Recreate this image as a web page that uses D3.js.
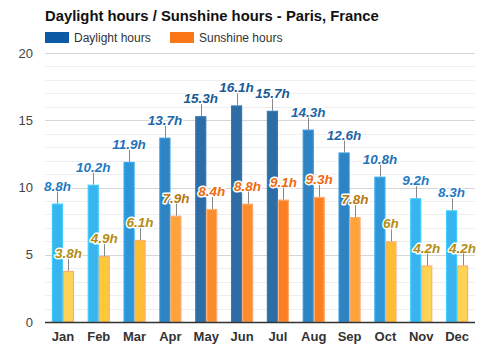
<!DOCTYPE html>
<html>
<head>
<meta charset="utf-8">
<script src="https://cdn.jsdelivr.net/npm/d3@7"></script>
<style>
  html, body { margin: 0; padding: 0; background: #fff; }
  svg { display: block; font-family: "Liberation Sans", Arial, sans-serif; }
</style>
</head>
<body>
<svg id="chart" width="500" height="350"></svg>
<script>
const months = ["Jan","Feb","Mar","Apr","May","Jun","Jul","Aug","Sep","Oct","Nov","Dec"];
const daylight = [8.8, 10.2, 11.9, 13.7, 15.3, 16.1, 15.7, 14.3, 12.6, 10.8, 9.2, 8.3];
const sunshine = [3.8, 4.9, 6.1, 7.9, 8.4, 8.8, 9.1, 9.3, 7.8, 6, 4.2, 4.2];
const seriesNames = ["Daylight hours", "Sunshine hours"];
const yTicks = [0, 5, 10, 15, 20];
const title = "Daylight hours / Sunshine hours - Paris, France";

const svg = d3.select("#chart");
const W = 500, H = 350;
const m = {left: 45, right: 25, top: 53, bottom: 28};
const plotW = W - m.left - m.right, plotH = H - m.top - m.bottom;

const x = d3.scaleBand().domain(months).range([m.left, m.left + plotW])
  .paddingInner(0.386).paddingOuter(0.193);
const y = d3.scaleLinear().domain([0, 20]).range([m.top + plotH, m.top]);

const dayColor = d3.scaleThreshold().domain([10.5, 12.2, 15])
  .range(["#38b4ee", "#2e96d6", "#2e84c2", "#2e6ca5"]);
const dayLabel = d3.scaleThreshold().domain([10.5, 12.2, 15])
  .range(["#1f7bc2", "#1f72b6", "#1e66a6", "#1a5a96"]);
const sunColor = d3.scaleThreshold().domain([4.5, 5.5, 7, 8.2, 9])
  .range(["#fdd355", "#fdc93a", "#fdbe35", "#fda33a", "#fd8c2c", "#fd7f22"]);
const sunLabel = d3.scaleThreshold().domain([7, 8.2])
  .range(["#b58c10", "#b8770f", "#ee6a10"]);

// Title
svg.append("text").attr("x", 45).attr("y", 21)
  .attr("font-size", 14.8).attr("font-weight", "bold").attr("fill", "#111")
  .text(title);

// Legend
const legColors = ["#0c5aa6", "#f97716"];
const legX = [45, 170];
seriesNames.forEach((n, i) => {
  svg.append("rect").attr("x", legX[i]).attr("y", 32).attr("width", 24).attr("height", 11)
    .attr("fill", legColors[i]);
  svg.append("text").attr("x", legX[i] + 29).attr("y", 42)
    .attr("font-size", 12).attr("fill", "#333").text(n);
});

// Grid
const minor = d3.range(0, 21, 1).filter(v => v % 5 !== 0);
svg.append("g").selectAll("line").data(minor).join("line")
  .attr("x1", m.left).attr("x2", m.left + plotW)
  .attr("y1", d => Math.round(y(d)) + 0.5).attr("y2", d => Math.round(y(d)) + 0.5)
  .attr("stroke", "#eeeeee").attr("stroke-width", 1);
svg.append("g").selectAll("line").data(yTicks.filter(v => v > 0)).join("line")
  .attr("x1", m.left).attr("x2", m.left + plotW)
  .attr("y1", d => Math.round(y(d)) + 0.5).attr("y2", d => Math.round(y(d)) + 0.5)
  .attr("stroke", "#d6d6d6").attr("stroke-width", 1);

// Y axis labels
const yAxis = d3.axisLeft(y).tickValues(yTicks).tickSize(0).tickPadding(12);
const ya = svg.append("g").attr("transform", `translate(${m.left},0)`).call(yAxis);
ya.select(".domain").remove();
ya.selectAll("text").attr("font-size", 13).attr("fill", "#444")
  .attr("font-family", "Liberation Sans, Arial, sans-serif");

// Bars
const bw = x.bandwidth() / 2;
const g = svg.append("g");
g.selectAll("rect.day").data(months).join("rect").attr("class", "day")
  .attr("x", d => x(d) + 0.5).attr("width", bw - 1)
  .attr("y", (d, i) => y(daylight[i]) + 0.5)
  .attr("height", (d, i) => y(0) - y(daylight[i]) - 0.5)
  .attr("fill", (d, i) => dayColor(daylight[i]))
  .attr("stroke", (d, i) => d3.color(dayColor(daylight[i])).brighter(0.35))
  .attr("stroke-width", 1.2);
g.selectAll("rect.sun").data(months).join("rect").attr("class", "sun")
  .attr("x", d => x(d) + bw + 0.5).attr("width", bw - 1)
  .attr("y", (d, i) => y(sunshine[i]) + 0.5)
  .attr("height", (d, i) => y(0) - y(sunshine[i]) - 0.5)
  .attr("fill", (d, i) => sunColor(sunshine[i]))
  .attr("stroke", "#fcae72").attr("stroke-width", 1.2);

// X axis line
svg.append("line").attr("x1", m.left).attr("x2", m.left + plotW)
  .attr("y1", y(0) + 0.5).attr("y2", y(0) + 0.5).attr("stroke", "#333").attr("stroke-width", 1.5);

// X labels
const xAxis = d3.axisBottom(x).tickSize(0).tickPadding(10);
const xa = svg.append("g").attr("transform", `translate(0,${y(0)})`).call(xAxis);
xa.select(".domain").remove();
xa.selectAll("text").attr("font-size", 13).attr("font-weight", "bold").attr("fill", "#333")
  .attr("font-family", "Liberation Sans, Arial, sans-serif");

// Value labels
function fmt(v) { return (Number.isInteger(v) ? String(v) : v.toFixed(1)) + "h"; }
function labels(values, offset, colorFn) {
  const lg = svg.append("g");
  values.forEach((v, i) => {
    const cx = x(months[i]) + offset + bw / 2;
    const top = y(v);
    lg.append("line").attr("x1", Math.round(cx) + 0.5).attr("x2", Math.round(cx) + 0.5)
      .attr("y1", top).attr("y2", top - 12).attr("stroke", "#888").attr("stroke-width", 1);
    const t = lg.append("text").attr("x", cx).attr("y", top - 13)
      .attr("text-anchor", "middle").attr("font-size", 13.5)
      .attr("font-weight", "bold").attr("font-style", "italic")
      .text(fmt(v));
    t.clone(true).lower().attr("stroke", "#fff").attr("stroke-width", 3)
      .attr("stroke-linejoin", "round").attr("fill", "#fff");
    t.attr("fill", colorFn(v));
  });
}
labels(daylight, 0, dayLabel);
labels(sunshine, bw, sunLabel);
</script>
</body>
</html>
